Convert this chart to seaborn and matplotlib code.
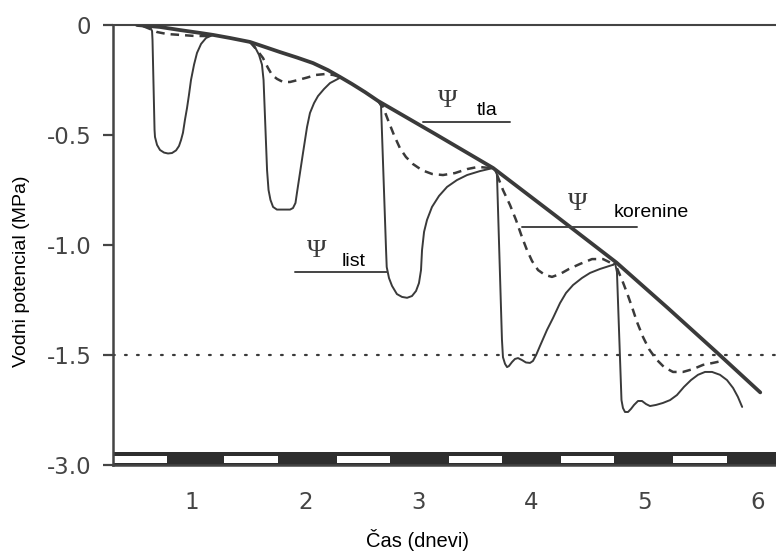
import matplotlib
matplotlib.use("Agg")
import matplotlib.pyplot as plt
from matplotlib.lines import Line2D
import seaborn as sns
import pandas as pd

# ---------------- data ----------------
# soil water potential (thick line)
soil_x = [0.514, 0.717, 0.894, 1.071, 1.186, 1.336, 1.512, 1.645, 1.777, 1.928, 2.069, 2.201, 2.307,
          2.413, 2.528, 2.643, 3.15, 3.66, 4.20, 4.75, 5.20, 5.64, 6.02]
soil_y = [0.0, -0.009, -0.023, -0.036, -0.045, -0.059, -0.077, -0.10, -0.123, -0.148, -0.173, -0.205, -0.236,
          -0.268, -0.305, -0.345, -0.496, -0.65, -0.862, -1.08, -1.285, -1.49, -1.67]

# leaf water potential (thin solid line), one list per day
leaf1_x = [0.514, 0.63, 0.647, 0.651, 0.669, 0.673, 0.691, 0.717, 0.753, 0.788, 0.823, 0.859, 0.885, 0.903,
           0.920, 0.938, 0.956, 0.973, 0.991, 1.018, 1.044, 1.080, 1.124, 1.186]
leaf1_y = [0.0, -0.01, -0.027, -0.068, -0.477, -0.509, -0.545, -0.568, -0.58, -0.584, -0.582, -0.57, -0.55, -0.523,
           -0.49, -0.43, -0.377, -0.318, -0.25, -0.18, -0.127, -0.086, -0.059, -0.045]
leaf2_x = [1.512, 1.556, 1.592, 1.618, 1.632, 1.663, 1.676, 1.693, 1.716, 1.75, 1.866, 1.892, 1.914, 1.928,
           1.981, 2.016, 2.042, 2.078, 2.113, 2.166, 2.219, 2.307]
leaf2_y = [-0.077, -0.10, -0.136, -0.18, -0.25, -0.66, -0.75, -0.795, -0.827, -0.839, -0.839, -0.832, -0.809, -0.76,
           -0.58, -0.464, -0.40, -0.355, -0.323, -0.291, -0.264, -0.24]
leaf3_x = [2.643, 2.67, 2.714, 2.72, 2.74, 2.767, 2.81, 2.855, 2.90, 2.943, 2.979, 3.005, 3.023, 3.032, 3.05,
           3.076, 3.12, 3.182, 3.253, 3.34, 3.43, 3.544, 3.66]
leaf3_y = [-0.345, -0.368, -1.02, -1.10, -1.15, -1.186, -1.223, -1.236, -1.24, -1.232, -1.209, -1.173, -1.114,
           -1.023, -0.94, -0.886, -0.827, -0.777, -0.736, -0.705, -0.682, -0.664, -0.65]
leaf4_x = [3.66, 3.677, 3.694, 3.738, 3.747, 3.765, 3.783, 3.80, 3.827, 3.853, 3.88, 3.915, 3.95, 3.986, 4.012,
           4.04, 4.074, 4.136, 4.189, 4.251, 4.304, 4.366, 4.445, 4.516, 4.604, 4.719]
leaf4_y = [-0.65, -0.66, -0.68, -1.43, -1.51, -1.54, -1.555, -1.55, -1.532, -1.518, -1.514, -1.523, -1.534, -1.536,
           -1.527, -1.50, -1.459, -1.386, -1.332, -1.264, -1.218, -1.182, -1.15, -1.127, -1.109, -1.09]
leaf5_x = [4.719, 4.737, 4.754, 4.794, 4.807, 4.825, 4.852, 4.878, 4.905, 4.94, 4.975, 5.011, 5.046, 5.099, 5.16,
           5.223, 5.284, 5.346, 5.408, 5.47, 5.532, 5.594, 5.664, 5.726, 5.78, 5.822, 5.86]
leaf5_y = [-1.09, -1.082, -1.123, -1.705, -1.741, -1.759, -1.759, -1.745, -1.727, -1.709, -1.709, -1.723, -1.732,
           -1.727, -1.718, -1.705, -1.682, -1.645, -1.614, -1.59, -1.577, -1.577, -1.59, -1.614, -1.65, -1.69, -1.736]

# root water potential (dashed line), one list per day
root1_x = [0.567, 0.629, 0.691, 0.779, 0.894, 1.027, 1.115, 1.186]
root1_y = [-0.005, -0.018, -0.032, -0.041, -0.045, -0.05, -0.05, -0.045]
root2_x = [1.512, 1.574, 1.627, 1.671, 1.707, 1.751, 1.804, 1.866, 1.936, 2.016, 2.095, 2.175, 2.246, 2.307]
root2_y = [-0.077, -0.114, -0.15, -0.195, -0.227, -0.245, -0.259, -0.259, -0.25, -0.239, -0.227, -0.223, -0.227, -0.236]
root3_x = [2.643, 2.688, 2.73, 2.784, 2.837, 2.89, 2.952, 3.032, 3.12, 3.217, 3.323, 3.43, 3.527, 3.633]
root3_y = [-0.345, -0.373, -0.43, -0.50, -0.56, -0.60, -0.632, -0.66, -0.677, -0.682, -0.673, -0.655, -0.645, -0.65]
root4_x = [3.694, 3.747, 3.809, 3.862, 3.915, 3.959, 4.004, 4.057, 4.118, 4.18, 4.251, 4.33, 4.428, 4.534, 4.631, 4.719]
root4_y = [-0.68, -0.75, -0.818, -0.886, -0.964, -1.023, -1.073, -1.114, -1.136, -1.145, -1.132, -1.109, -1.086,
           -1.064, -1.064, -1.086]
root5_x = [4.754, 4.799, 4.843, 4.887, 4.931, 4.984, 5.037, 5.099, 5.17, 5.249, 5.337, 5.426, 5.514, 5.602, 5.682]
root5_y = [-1.105, -1.159, -1.218, -1.282, -1.35, -1.418, -1.473, -1.518, -1.555, -1.577, -1.577, -1.564, -1.545,
           -1.536, -1.527]

# light periods (white boxes of the day/night bar)
day_start = [0.30, 1.28, 2.28, 3.27, 4.26, 5.25]
day_end = [0.78, 1.76, 2.75, 3.74, 4.73, 5.73]

wilting_point = -1.5
x_ticks = [1, 2, 3, 4, 5, 6]
x_ticklabels = ["1", "2", "3", "4", "5", "6"]
y_ticks = [0.0, -0.5, -1.0, -1.5, -2.0]
y_ticklabels = ["0", "-0.5", "-1.0", "-1.5", "-3.0"]

# ---------------- figure ----------------
sns.set_theme(style="white")
plt.rcParams["font.family"] = ["DejaVu Sans"]

W, H = 776, 552
fig = plt.figure(figsize=(W / 100, H / 100), dpi=100)
fig.patch.set_facecolor("white")
ax = fig.add_axes([113 / W, (H - 465) / H, (W - 113) / W, 440 / H])
ax.set_facecolor("white")

def P(px, py):
    return px / W, 1 - py / H

ink = "#3a3a3a"

def frame(parts):
    xs, ys, ds = [], [], []
    for d, (px, py) in enumerate(parts, start=1):
        xs += px
        ys += py
        ds += [d] * len(px)
    return pd.DataFrame({"x": xs, "y": ys, "day": ds})

leaf_df = frame([(leaf1_x, leaf1_y), (leaf2_x, leaf2_y), (leaf3_x, leaf3_y), (leaf4_x, leaf4_y), (leaf5_x, leaf5_y)])
root_df = frame([(root1_x, root1_y), (root2_x, root2_y), (root3_x, root3_y), (root4_x, root4_y), (root5_x, root5_y)])
soil_df = pd.DataFrame({"x": soil_x, "y": soil_y})

# day/night bar
ax.axhspan(-2.0, -1.941, color="#2e2e2e", lw=0, zorder=1)
ax.broken_barh([(s, e - s) for s, e in zip(day_start, day_end)], (-1.991, 0.032),
               facecolors="white", edgecolor="none", zorder=2)

ax.axhline(wilting_point, color=ink, lw=1.6, ls=(0, (0.8, 4.6)), dash_capstyle="round", zorder=2)

sns.lineplot(data=root_df, x="x", y="y", units="day", estimator=None, sort=False,
             color=ink, lw=1.8, linestyle=(0, (3.4, 2.4)), ax=ax, zorder=3, legend=False)
sns.lineplot(data=leaf_df, x="x", y="y", units="day", estimator=None, sort=False,
             color=ink, lw=1.4, ax=ax, zorder=4, legend=False)
sns.lineplot(data=soil_df, x="x", y="y", estimator=None, sort=False,
             color=ink, lw=2.7, ax=ax, zorder=5, legend=False)

ax.set_xlim(0.302, 6.159)
ax.set_ylim(-2.0, 0.0)
ax.set_xticks(x_ticks)
ax.set_xticklabels(x_ticklabels)
ax.set_yticks(y_ticks)
ax.set_yticklabels(y_ticklabels)
ax.tick_params(axis="y", direction="out", length=7.5, width=1.6, color="#444444",
               pad=8, labelsize=16.5, labelcolor="#444444", left=True)
ax.tick_params(axis="x", length=0, pad=19, labelsize=16.5, labelcolor="#444444")

for side in ["left", "bottom", "top"]:
    ax.spines[side].set_visible(True)
    ax.spines[side].set_color("#444444")
ax.spines["left"].set_linewidth(1.8)
ax.spines["bottom"].set_linewidth(1.8)
ax.spines["top"].set_linewidth(1.5)
ax.spines["right"].set_visible(False)

ax.set_xlabel("Čas (dnevi)", family="Liberation Sans", fontsize=14.5, color="black")
ax.xaxis.set_label_coords((417 - 113) / 663, -(547 - 465) / 440)
ax.xaxis.label.set_va("baseline")
ax.set_ylabel("Vodni potencial (MPa)", family="Liberation Sans", fontsize=14, color="black")
ax.yaxis.set_label_coords((21 - 113) / 663, (465 - 271) / 440)
ax.yaxis.label.set_va("center")

# annotations
sans = "Liberation Sans"
serif = "Liberation Serif"
for (px, py) in [(448, 107), (317, 257), (578, 210)]:
    fig.text(*P(px, py), "Ψ", family=serif, fontsize=19, ha="center", va="baseline", color=ink)
fig.text(*P(487, 115), "tla", family=sans, fontsize=14, ha="center", va="baseline", color="black")
fig.text(*P(354, 266), "list", family=sans, fontsize=14, ha="center", va="baseline", color="black")
fig.text(*P(651, 217), "korenine", family=sans, fontsize=14, ha="center", va="baseline", color="black")
for (x0, x1, yy) in [(423, 510, 122), (522, 637, 227), (295, 387, 272)]:
    (a0, b0), (a1, b1) = P(x0, yy), P(x1, yy)
    fig.add_artist(Line2D([a0, a1], [b0, b1], transform=fig.transFigure, color="#444444", lw=1.4))

fig.savefig("out.png", dpi=100)
